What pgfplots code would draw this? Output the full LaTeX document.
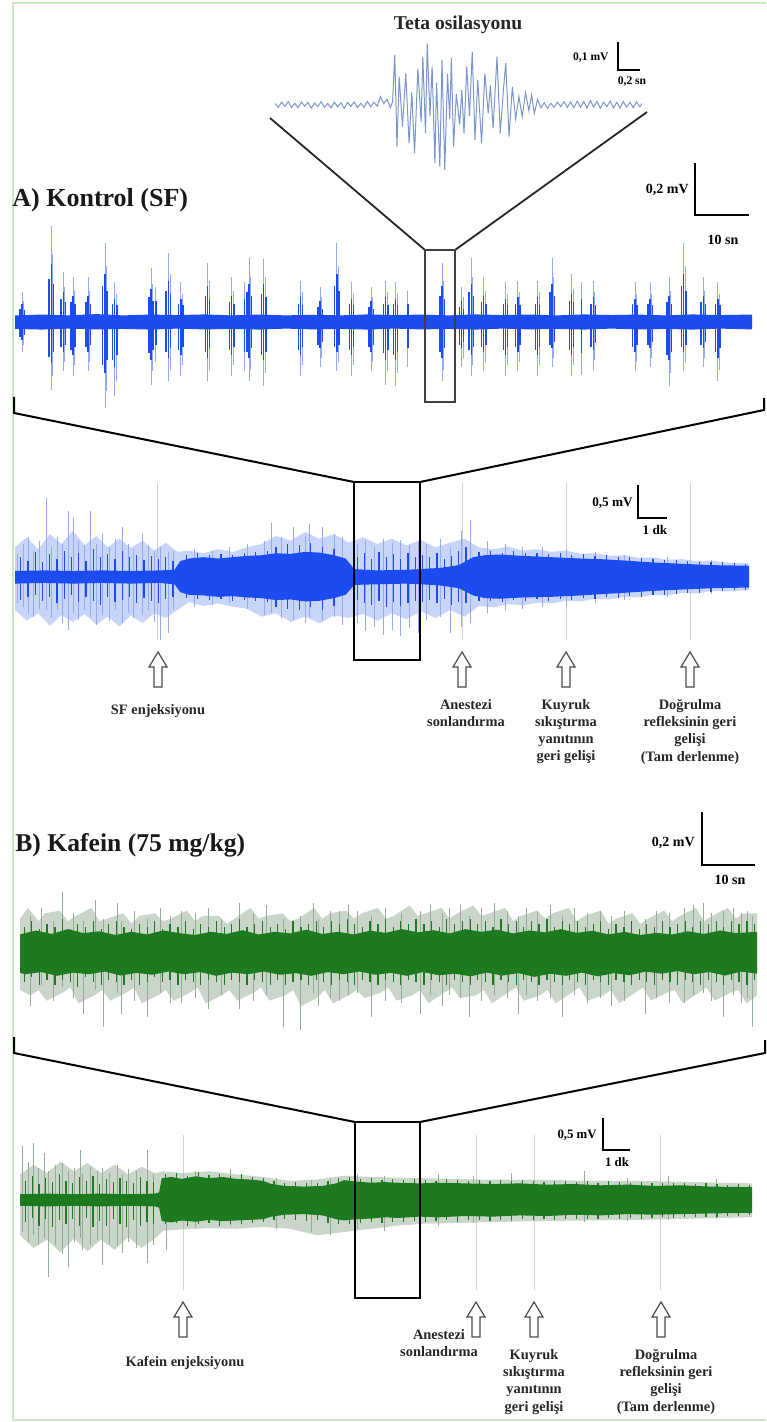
\documentclass[border=0pt]{standalone}
\usepackage{pgfplots}
\pgfplotsset{compat=1.18}
\usepackage{fontspec}
\setmainfont{Liberation Serif}
\definecolor{eegblue}{HTML}{1C4CF0}
\definecolor{eegblueL}{HTML}{93AAF4}
\definecolor{eeggreen}{HTML}{1E7A1E}
\definecolor{eeggreenL}{HTML}{95AD95}
\definecolor{tetablue}{HTML}{7A96CC}
\definecolor{framegreen}{HTML}{C9E9C3}
\definecolor{evline}{HTML}{D2D2D2}
\pgfplotsset{
  trace/.style={hide axis, scale only axis, enlargelimits=false, clip=false, anchor=south west},
  atop/.style={trace, at={(7.5pt,-210.5pt)}, width=368.5pt, height=99pt, xmin=0, xmax=136, ymin=-0.6, ymax=0.6},
  abot/.style={trace, at={(7.5pt,-338pt)}, width=367pt, height=99pt, xmin=0, xmax=25.31, ymin=-1.5, ymax=1.5},
  btop/.style={trace, at={(10pt,-522.875pt)}, width=368.5pt, height=92.75pt, xmin=0, xmax=139, ymin=-0.35, ymax=0.35},
  bbot/.style={trace, at={(10pt,-641.6pt)}, width=366pt, height=83.2pt, xmin=0, xmax=27.1, ymin=-1.3, ymax=1.3},
  spk/.style={#1, line width=0.45pt, unbounded coords=jump},
  vl/.style 2 args={color=#2, only marks, mark=*, mark size=0pt, mark options={draw opacity=0, fill opacity=0},
     error bars/.cd, y dir=both, y explicit, error mark=none,
     error bar style={line width=#1, draw=#2, color=#2, draw opacity=1}},
}
\newcommand{\uparr}[2]{\draw[line width=0.6pt, draw=black!70, fill=white] (#1,#2) -- ++(9,15) -- ++(-5,0) -- ++(0,20) -- ++(-8,0) -- ++(0,-20) -- ++(-5,0) -- cycle;}
\begin{document}
\begin{tikzpicture}
\path[use as bounding box] (0,0) rectangle (383pt,-711pt);
\begin{scope}[x=0.5pt,y=-0.5pt]
\draw[framegreen, line width=0.75pt] (766,3) -- (13,3) -- (13,1420) -- (766,1420);
\foreach \ex in {157,462,566,690} \draw[evline, line width=0.4pt] (\ex,483) -- (\ex,640);
\foreach \ex in {183,476,534,660} \draw[evline, line width=0.4pt] (\ex,1135) -- (\ex,1290);
\end{scope}

% ---------- Teta inset ----------
\begin{axis}[trace, at={(137.5pt,-87.5pt)}, width=183.5pt, height=70pt,
  xmin=0, xmax=3.34, ymin=-0.25, ymax=0.25]
\addplot[tetablue, line width=0.5pt] coordinates {
(0.00,0.005)(0.03,-0.008)(0.06,0.010)(0.09,-0.005)(0.12,0.012)(0.15,-0.009)(0.18,0.006)(0.21,-0.010)
(0.24,0.011)(0.27,-0.004)(0.30,0.009)(0.33,-0.011)(0.36,0.007)(0.39,-0.006)(0.42,0.012)(0.45,-0.008)
(0.48,0.005)(0.51,-0.010)(0.54,0.010)(0.57,-0.007)(0.60,0.008)(0.63,-0.012)(0.66,0.009)(0.69,-0.005)
(0.72,0.011)(0.75,-0.009)(0.78,0.006)(0.81,-0.008)(0.84,0.013)(0.87,-0.006)(0.90,0.010)(0.93,-0.004)
(0.96,0.030)(0.99,0.005)(1.02,0.020)(1.05,-0.010)
(1.07,0.012)(1.09,0.179)(1.11,-0.149)(1.13,0.101)(1.16,-0.077)(1.19,0.113)(1.22,-0.137)(1.245,0.045)
(1.27,-0.173)(1.30,0.130)(1.33,-0.060)(1.345,0.173)(1.37,-0.101)(1.385,0.220)(1.41,-0.040)(1.43,0.137)
(1.455,-0.208)(1.47,0.080)(1.50,-0.220)(1.52,0.161)(1.545,-0.232)(1.57,0.110)(1.59,-0.050)(1.605,0.167)
(1.625,-0.149)(1.65,0.040)(1.68,-0.070)(1.70,0.054)(1.72,-0.101)(1.745,0.137)(1.77,-0.040)(1.795,0.190)
(1.82,-0.125)(1.845,0.089)(1.88,-0.137)(1.91,0.113)(1.94,-0.030)(1.96,0.070)(1.985,-0.083)(2.02,0.173)
(2.05,-0.101)(2.08,0.060)(2.10,0.149)(2.13,-0.113)(2.16,0.065)(2.19,-0.050)(2.22,0.030)(2.25,-0.042)
(2.28,0.045)(2.31,-0.020)(2.335,0.036)(2.36,-0.030)(2.39,0.020)
(2.42,-0.010)(2.45,0.008)(2.48,-0.012)(2.51,0.006)(2.54,-0.008)(2.57,0.010)(2.60,-0.006)(2.63,0.012)
(2.66,-0.009)(2.69,0.011)(2.72,-0.010)(2.75,0.014)(2.78,-0.008)(2.81,0.012)(2.84,-0.011)(2.87,0.016)
(2.90,-0.007)(2.93,0.013)(2.96,-0.012)(2.99,0.010)(3.02,-0.006)(3.05,0.014)(3.08,-0.010)(3.11,0.009)
(3.14,-0.011)(3.17,0.012)(3.20,-0.007)(3.23,0.010)(3.26,-0.009)(3.29,0.011)(3.32,-0.006)(3.34,0.005)
};
\end{axis}

% ---------- A top trace ----------
\begin{axis}[atop]
\addplot[spk=eegblueL] coordinates {
(1.3,0.18)(1.3,-0.18)(1.3,nan)(1.6,0.13)(1.6,-0.14)(1.6,nan)(6.7,0.58)(6.7,-0.41)(6.7,nan)
(7.0,0.41)(7.0,-0.33)(7.0,nan)(8.9,0.30)(8.9,-0.30)(8.9,nan)(9.2,0.21)(9.2,-0.24)(9.2,nan)
(10.7,0.27)(10.7,-0.33)(10.7,nan)(11.0,0.19)(11.0,-0.26)(11.0,nan)(13.5,0.27)(13.5,-0.30)(13.5,nan)
(13.8,0.19)(13.8,-0.24)(13.8,nan)(16.6,0.48)(16.6,-0.52)(16.6,nan)(16.9,0.34)(16.9,-0.42)(16.9,nan)
(18.4,0.24)(18.4,-0.45)(18.4,nan)(18.7,0.17)(18.7,-0.36)(18.7,nan)(25.1,0.33)(25.1,-0.38)(25.1,nan)
(25.4,0.23)(25.4,-0.30)(25.4,nan)(26.0,0.21)(26.0,-0.24)(26.0,nan)(28.3,0.42)(28.3,-0.36)(28.3,nan)
(28.6,0.29)(28.6,-0.29)(28.6,nan)(30.6,0.24)(30.6,-0.33)(30.6,nan)(30.9,0.17)(30.9,-0.26)(30.9,nan)
(35.5,0.36)(35.5,-0.36)(35.5,nan)(35.8,0.25)(35.8,-0.29)(35.8,nan)(40.0,0.27)(40.0,-0.33)(40.0,nan)
(40.3,0.19)(40.3,-0.26)(40.3,nan)(42.3,0.24)(42.3,-0.30)(42.3,nan)(43.2,0.39)(43.2,-0.36)(43.2,nan)
(43.5,0.27)(43.5,-0.29)(43.5,nan)(45.9,0.38)(45.9,-0.39)(45.9,nan)(46.2,0.27)(46.2,-0.31)(46.2,nan)
(52.7,0.25)(52.7,-0.33)(52.7,nan)(53.0,0.18)(53.0,-0.26)(53.0,nan)(56.3,0.21)(56.3,-0.27)(56.3,nan)
(56.6,0.15)(56.6,-0.22)(56.6,nan)(59.4,0.48)(59.4,-0.30)(59.4,nan)(59.7,0.34)(59.7,-0.24)(59.7,nan)
(62.1,0.24)(62.1,-0.33)(62.1,nan)(62.4,0.17)(62.4,-0.26)(62.4,nan)(65.7,0.21)(65.7,-0.30)(65.7,nan)
(66.0,0.15)(66.0,-0.24)(66.0,nan)(68.4,0.25)(68.4,-0.38)(68.4,nan)(68.7,0.18)(68.7,-0.30)(68.7,nan)
(70.2,0.24)(70.2,-0.39)(70.2,nan)(70.5,0.17)(70.5,-0.31)(70.5,nan)(72.5,0.19)(72.5,-0.27)(72.5,nan)
(78.8,0.36)(78.8,-0.36)(78.8,nan)(79.1,0.25)(79.1,-0.29)(79.1,nan)(82.4,0.21)(82.4,-0.27)(82.4,nan)
(82.7,0.15)(82.7,-0.22)(82.7,nan)(84.2,0.39)(84.2,-0.33)(84.2,nan)(84.5,0.27)(84.5,-0.26)(84.5,nan)
(86.5,0.27)(86.5,-0.30)(86.5,nan)(86.8,0.19)(86.8,-0.24)(86.8,nan)(90.5,0.24)(90.5,-0.33)(90.5,nan)
(90.8,0.17)(90.8,-0.26)(90.8,nan)(92.8,0.25)(92.8,-0.30)(92.8,nan)(93.1,0.18)(93.1,-0.24)(93.1,nan)
(96.4,0.25)(96.4,-0.33)(96.4,nan)(96.7,0.18)(96.7,-0.26)(96.7,nan)(99.1,0.39)(99.1,-0.27)(99.1,nan)
(99.4,0.27)(99.4,-0.22)(99.4,nan)(102.7,0.29)(102.7,-0.33)(102.7,nan)(103.0,0.20)(103.0,-0.26)(103.0,nan)
(104.5,0.24)(104.5,-0.32)(104.5,nan)(106.7,0.25)(106.7,-0.29)(106.7,nan)(107.0,0.18)(107.0,-0.23)(107.0,nan)
(114.4,0.24)(114.4,-0.30)(114.4,nan)(114.7,0.17)(114.7,-0.24)(114.7,nan)(117.2,0.24)(117.2,-0.27)(117.2,nan)
(117.5,0.17)(117.5,-0.22)(117.5,nan)(120.7,0.27)(120.7,-0.39)(120.7,nan)(121.0,0.19)(121.0,-0.31)(121.0,nan)
(123.4,0.48)(123.4,-0.30)(123.4,nan)(123.7,0.34)(123.7,-0.24)(123.7,nan)(127.0,0.27)(127.0,-0.27)(127.0,nan)
(127.3,0.19)(127.3,-0.22)(127.3,nan)(129.7,0.24)(129.7,-0.36)(129.7,nan)(130.0,0.17)(130.0,-0.29)
};
\end{axis}
\begin{axis}[atop]
\addplot[vl={0.7pt}{eegblue}] table[x index=0, y index=1, y error plus index=2, y error minus index=3] {
0.9 0 0.08 0.09
1.3 0 0.11 0.11
1.7 0 0.07 0.08
6.3 0 0.26 0.21
6.7 0 0.35 0.25
7.1 0 0.23 0.18
8.5 0 0.14 0.15
8.9 0 0.18 0.18
9.3 0 0.12 0.14
10.3 0 0.12 0.17
10.7 0 0.16 0.20
11.1 0 0.11 0.15
13.1 0 0.12 0.15
13.5 0 0.16 0.18
13.9 0 0.11 0.14
16.2 0 0.22 0.26
16.6 0 0.29 0.31
17.0 0 0.19 0.23
18.0 0 0.11 0.23
18.4 0 0.14 0.27
18.8 0 0.10 0.20
24.7 0 0.15 0.19
25.1 0 0.20 0.23
25.5 0 0.13 0.17
26.0 0 0.13 0.14
27.9 0 0.19 0.18
28.3 0 0.25 0.22
28.7 0 0.17 0.16
30.2 0 0.11 0.17
30.6 0 0.14 0.20
31.0 0 0.10 0.15
35.1 0 0.16 0.18
35.5 0 0.22 0.22
35.9 0 0.14 0.16
39.6 0 0.12 0.17
40.0 0 0.16 0.20
40.4 0 0.11 0.15
42.3 0 0.14 0.18
42.8 0 0.18 0.18
43.2 0 0.23 0.22
43.6 0 0.16 0.16
45.5 0 0.17 0.20
45.9 0 0.23 0.23
46.3 0 0.15 0.18
52.3 0 0.11 0.17
52.7 0 0.15 0.20
53.1 0 0.10 0.15
55.9 0 0.09 0.14
56.3 0 0.13 0.16
56.7 0 0.08 0.12
59.0 0 0.22 0.15
59.4 0 0.29 0.18
59.8 0 0.19 0.14
61.7 0 0.11 0.17
62.1 0 0.14 0.20
62.5 0 0.10 0.15
65.3 0 0.09 0.15
65.7 0 0.13 0.18
66.1 0 0.08 0.14
68.0 0 0.11 0.19
68.4 0 0.15 0.23
68.8 0 0.10 0.17
69.8 0 0.11 0.20
70.2 0 0.14 0.23
70.6 0 0.10 0.18
72.5 0 0.11 0.16
78.4 0 0.16 0.18
78.8 0 0.22 0.22
79.2 0 0.14 0.16
82.0 0 0.09 0.14
82.4 0 0.13 0.16
82.8 0 0.08 0.12
83.8 0 0.18 0.17
84.2 0 0.23 0.20
84.6 0 0.16 0.15
86.1 0 0.12 0.15
86.5 0 0.16 0.18
86.9 0 0.11 0.14
90.1 0 0.11 0.17
90.5 0 0.14 0.20
90.9 0 0.10 0.15
92.4 0 0.11 0.15
92.8 0 0.15 0.18
93.2 0 0.10 0.14
96.0 0 0.11 0.17
96.4 0 0.15 0.20
96.8 0 0.10 0.15
98.7 0 0.18 0.14
99.1 0 0.23 0.16
99.5 0 0.16 0.12
102.3 0 0.13 0.17
102.7 0 0.17 0.20
103.1 0 0.12 0.15
104.5 0 0.14 0.19
106.3 0 0.11 0.15
106.7 0 0.15 0.17
107.1 0 0.10 0.13
114.0 0 0.11 0.15
114.4 0 0.14 0.18
114.8 0 0.10 0.14
116.8 0 0.11 0.14
117.2 0 0.14 0.16
117.6 0 0.10 0.12
120.3 0 0.12 0.20
120.7 0 0.16 0.23
121.1 0 0.11 0.18
123.0 0 0.22 0.15
123.4 0 0.29 0.18
123.8 0 0.19 0.14
126.6 0 0.12 0.14
127.0 0 0.16 0.16
127.4 0 0.11 0.12
129.3 0 0.11 0.18
129.7 0 0.14 0.22
130.1 0 0.10 0.16
};
\addplot[fill=eegblue, draw=none] coordinates {
(0,0.040)(5,0.045)(10,0.040)(15,0.048)(20,0.040)(25,0.045)(30,0.042)(35,0.046)(40,0.040)(45,0.045)
(50,0.040)(55,0.044)(60,0.040)(65,0.046)(70,0.042)(75,0.045)(80,0.040)(85,0.046)(90,0.042)(95,0.045)
(100,0.040)(105,0.046)(110,0.042)(115,0.045)(120,0.040)(125,0.046)(130,0.042)(136,0.045)
(136,-0.045)(130,-0.040)(125,-0.046)(120,-0.042)(115,-0.045)(110,-0.040)(105,-0.046)(100,-0.042)
(95,-0.045)(90,-0.040)(85,-0.046)(80,-0.042)(75,-0.045)(70,-0.040)(65,-0.046)(60,-0.042)(55,-0.045)
(50,-0.040)(45,-0.046)(40,-0.042)(35,-0.045)(30,-0.040)(25,-0.046)(20,-0.042)(15,-0.045)(10,-0.040)
(5,-0.046)(0,-0.042)
};
\end{axis}

% ---------- A bottom trace ----------
\begin{axis}[abot]
\addplot[fill=eegblueL, fill opacity=0.5, draw=none] coordinates {
(0,0.45)(0.4,0.60)(0.8,0.42)(1.2,0.65)(1.6,0.50)(2.0,0.70)(2.4,0.48)(2.8,0.62)(3.2,0.45)(3.6,0.58)
(4.0,0.44)(4.4,0.55)(4.8,0.40)(5.2,0.52)(5.6,0.38)(6.0,0.40)(6.5,0.36)(7.0,0.42)(7.5,0.38)(8.0,0.45)
(8.5,0.50)(9.0,0.62)(9.5,0.55)(10.0,0.68)(10.5,0.58)(11.0,0.65)(11.5,0.52)(12.0,0.60)(12.5,0.50)
(13.0,0.58)(13.5,0.48)(14.0,0.56)(14.5,0.45)(15.0,0.52)(15.5,0.58)(16.0,0.45)(16.5,0.42)(17.0,0.46)
(17.5,0.40)(18.0,0.42)(18.5,0.38)(19.0,0.40)(19.5,0.35)(20.0,0.36)(20.5,0.32)(21.0,0.33)(21.5,0.29)
(22.0,0.30)(22.5,0.26)(23.0,0.27)(23.5,0.24)(24.0,0.25)(24.5,0.22)(25.31,0.21)
(25.31,-0.20)(24.5,-0.22)(24.0,-0.21)(23.5,-0.25)(23.0,-0.24)(22.5,-0.28)(22.0,-0.27)(21.5,-0.31)
(21.0,-0.30)(20.5,-0.34)(20.0,-0.33)(19.5,-0.37)(19.0,-0.36)(18.5,-0.40)(18.0,-0.39)(17.5,-0.43)
(17.0,-0.41)(16.5,-0.46)(16.0,-0.44)(15.5,-0.60)(15.0,-0.50)(14.5,-0.62)(14.0,-0.52)(13.5,-0.64)
(13.0,-0.55)(12.5,-0.66)(12.0,-0.56)(11.5,-0.62)(11.0,-0.58)(10.5,-0.70)(10.0,-0.60)(9.5,-0.68)
(9.0,-0.55)(8.5,-0.60)(8.0,-0.48)(7.5,-0.45)(7.0,-0.40)(6.5,-0.44)(6.0,-0.38)(5.6,-0.50)(5.2,-0.62)
(4.8,-0.55)(4.4,-0.70)(4.0,-0.58)(3.6,-0.75)(3.2,-0.60)(2.8,-0.72)(2.4,-0.56)(2.0,-0.68)(1.6,-0.58)
(1.2,-0.74)(0.8,-0.55)(0.4,-0.66)(0,-0.50)
};
\addplot[spk=eegblueL] coordinates {
(0.1,0.35)(0.1,-0.40)(0.1,nan)(0.3,0.50)(0.3,-0.45)(0.3,nan)(0.48,0.61)(0.48,-0.55)(0.48,nan)
(0.65,0.40)(0.65,-0.60)(0.65,nan)(0.85,0.55)(0.85,-0.48)(0.85,nan)(1.07,1.20)(1.07,-0.50)(1.07,nan)
(1.25,0.45)(1.25,-0.62)(1.25,nan)(1.45,0.60)(1.45,-0.50)(1.45,nan)(1.65,0.50)(1.65,-0.70)(1.65,nan)
(1.83,1.00)(1.83,-0.80)(1.83,nan)(2.00,0.90)(2.00,-0.55)(2.00,nan)(2.20,0.55)(2.20,-0.65)(2.20,nan)
(2.40,0.48)(2.40,-0.50)(2.40,nan)(2.59,1.00)(2.59,-0.60)(2.59,nan)(2.80,0.50)(2.80,-0.72)(2.80,nan)
(3.03,0.65)(3.03,-0.58)(3.03,nan)(3.25,0.45)(3.25,-0.66)(3.25,nan)(3.45,0.58)(3.45,-0.50)(3.45,nan)
(3.69,0.76)(3.69,-0.70)(3.69,nan)(3.90,0.50)(3.90,-0.55)(3.90,nan)(4.10,0.42)(4.10,-0.62)(4.10,nan)
(4.38,0.65)(4.38,-0.58)(4.38,nan)(4.60,0.48)(4.60,-0.50)(4.60,nan)(4.80,0.40)(4.80,-0.68)(4.80,nan)
(5.03,0.45)(5.03,-0.95)(5.03,nan)(5.28,0.38)(5.28,-0.85)(5.28,nan)(5.45,0.40)(5.45,-0.50)(5.45,nan)
(6.2,0.42)(6.2,-0.45)(6.2,nan)(6.8,0.40)(6.8,-0.42)(6.8,nan)(7.4,0.45)(7.4,-0.40)(7.4,nan)
(8.0,0.50)(8.0,-0.48)(8.0,nan)(8.6,0.55)(8.6,-0.58)(8.6,nan)(8.83,0.82)(8.83,-0.55)(8.83,nan)
(9.2,0.60)(9.2,-0.62)(9.2,nan)(9.59,0.76)(9.59,-0.65)(9.59,nan)(10.0,0.62)(10.0,-0.70)(10.0,nan)
(10.17,0.80)(10.17,-0.60)(10.17,nan)(10.59,0.76)(10.59,-0.66)(10.59,nan)(11.0,0.65)(11.0,-0.60)(11.0,nan)
(11.28,0.60)(11.28,-0.72)(11.28,nan)(11.8,0.50)(11.8,-0.70)(11.8,nan)(12.1,0.56)(12.1,-0.82)(12.1,nan)
(12.4,0.45)(12.4,-0.75)(12.4,nan)(12.7,0.58)(12.7,-0.88)(12.7,nan)(13.0,0.52)(13.0,-0.80)(13.0,nan)
(13.3,0.56)(13.3,-0.90)(13.3,nan)(13.6,0.48)(13.6,-0.78)(13.6,nan)(13.9,0.55)(13.9,-0.85)(13.9,nan)
(14.2,0.50)(14.2,-0.65)(14.2,nan)(14.66,0.58)(14.66,-0.60)(14.66,nan)(15.0,0.45)(15.0,-0.85)(15.0,nan)
(15.4,0.70)(15.4,-0.76)(15.4,nan)(15.72,0.86)(15.72,-0.70)(15.72,nan)(16.3,0.55)(16.3,-0.55)(16.3,nan)
(16.9,0.50)(16.9,-0.50)(16.9,nan)(17.5,0.45)(17.5,-0.48)(17.5,nan)(18.2,0.46)(18.2,-0.45)(18.2,nan)
(19.0,0.42)(19.0,-0.44)(19.0,nan)(20.0,0.38)(20.0,-0.40)(20.0,nan)(21.0,0.34)(21.0,-0.35)(21.0,nan)
(22.5,0.30)(22.5,-0.30)(22.5,nan)(24.0,0.26)(24.0,-0.25)
};
\end{axis}
\begin{axis}[abot]
\addplot[vl={0.6pt}{eegblue}] table[x index=0, y index=1, y error plus index=2, y error minus index=3] {
0.2 0 0.30 0.35
0.45 0 0.25 0.30
0.7 0 0.38 0.28
0.95 0 0.22 0.36
1.2 0 0.35 0.30
1.45 0 0.28 0.40
1.7 0 0.40 0.33
1.95 0 0.30 0.28
2.2 0 0.36 0.38
2.45 0 0.25 0.30
2.7 0 0.42 0.36
2.95 0 0.30 0.42
3.2 0 0.35 0.30
3.45 0 0.28 0.38
3.7 0 0.40 0.35
3.95 0 0.30 0.30
4.2 0 0.34 0.40
4.45 0 0.26 0.32
4.7 0 0.32 0.36
4.95 0 0.28 0.40
5.2 0 0.30 0.34
5.45 0 0.25 0.30
5.9 0 0.34 0.32
6.3 0 0.36 0.34
6.7 0 0.33 0.35
7.1 0 0.35 0.33
7.5 0 0.34 0.36
7.9 0 0.37 0.35
8.3 0 0.38 0.36
8.7 0 0.40 0.38
9.0 0 0.45 0.45
9.4 0 0.50 0.48
9.8 0 0.48 0.50
10.2 0 0.52 0.46
10.6 0 0.46 0.50
11.0 0 0.42 0.44
11.8 0 0.30 0.35
12.05 0 0.36 0.40
12.3 0 0.28 0.42
12.55 0 0.38 0.36
12.8 0 0.30 0.45
13.05 0 0.35 0.38
13.3 0 0.28 0.44
13.55 0 0.36 0.40
13.8 0 0.30 0.36
14.05 0 0.34 0.38
14.3 0 0.30 0.35
14.55 0 0.36 0.40
14.8 0 0.28 0.34
15.05 0 0.32 0.42
15.3 0 0.40 0.38
15.55 0 0.45 0.40
16.0 0 0.38 0.37
16.4 0 0.40 0.36
16.8 0 0.37 0.38
17.2 0 0.39 0.35
17.6 0 0.36 0.37
18.0 0 0.37 0.34
18.4 0 0.35 0.36
18.8 0 0.36 0.33
19.2 0 0.34 0.35
19.6 0 0.35 0.32
20.0 0 0.32 0.33
20.4 0 0.33 0.31
20.8 0 0.31 0.32
21.2 0 0.30 0.29
21.6 0 0.29 0.30
22.0 0 0.28 0.27
22.4 0 0.26 0.27
22.8 0 0.26 0.25
23.2 0 0.25 0.24
23.6 0 0.23 0.24
24.0 0 0.22 0.22
24.4 0 0.22 0.21
24.8 0 0.21 0.20
25.2 0 0.20 0.20
};
\addplot[fill=eegblue, draw=none] coordinates {
(0,0.09)(1.0,0.10)(2.0,0.09)(3.0,0.10)(4.0,0.09)(5.0,0.10)(5.5,0.11)(5.7,0.24)(6.0,0.28)(6.5,0.30)
(7.0,0.28)(7.5,0.30)(8.0,0.32)(8.5,0.33)(9.0,0.36)(9.5,0.35)(10.0,0.38)(10.5,0.37)(11.0,0.33)
(11.4,0.28)(11.7,0.12)(12.5,0.10)(13.5,0.11)(14.0,0.12)(14.7,0.14)(15.3,0.18)(15.8,0.30)(16.2,0.33)
(16.7,0.34)(17.5,0.32)(18.5,0.30)(19.5,0.28)(20.2,0.27)(21.0,0.25)(22.0,0.22)(23.0,0.20)(24.0,0.18)
(25.31,0.17)
(25.31,-0.16)(24.0,-0.17)(23.0,-0.19)(22.0,-0.21)(21.0,-0.24)(20.2,-0.26)(19.5,-0.28)(18.5,-0.30)
(17.5,-0.31)(16.7,-0.33)(16.2,-0.32)(15.8,-0.28)(15.3,-0.17)(14.7,-0.13)(14.0,-0.11)(13.5,-0.10)
(12.5,-0.11)(11.7,-0.12)(11.4,-0.27)(11.0,-0.32)(10.5,-0.36)(10.0,-0.37)(9.5,-0.34)(9.0,-0.35)
(8.5,-0.32)(8.0,-0.31)(7.5,-0.29)(7.0,-0.30)(6.5,-0.28)(6.0,-0.27)(5.7,-0.23)(5.5,-0.11)(5.0,-0.09)
(4.0,-0.10)(3.0,-0.09)(2.0,-0.10)(1.0,-0.09)(0,-0.10)
};
\end{axis}

% ---------- B top trace ----------
\begin{axis}[btop]
\addplot[fill=eeggreenL, fill opacity=0.5, draw=none] coordinates {
(0,0.13)(1.5,0.17)(3.5,0.12)(4.7,0.15)(7.5,0.16)(9.0,0.12)(10.5,0.14)(13.5,0.17)(15.0,0.12)(16.5,0.13)
(19.5,0.15)(21.0,0.11)(22.5,0.14)(25.5,0.15)(27.0,0.12)(28.5,0.13)(31.5,0.16)(33.0,0.12)(34.5,0.14)
(37.5,0.14)(39.0,0.11)(40.5,0.13)(43.5,0.17)(45.0,0.13)(46.5,0.14)(49.5,0.15)(51.0,0.12)(52.5,0.13)
(55.5,0.17)(57.0,0.13)(58.5,0.15)(61.5,0.16)(63.0,0.13)(64.5,0.15)(67.5,0.17)(69.0,0.13)(70.5,0.14)
(73.5,0.18)(75.0,0.14)(76.5,0.15)(79.5,0.17)(81.0,0.13)(82.5,0.15)(85.5,0.18)(87.0,0.14)(88.5,0.15)
(91.5,0.17)(93.0,0.12)(94.5,0.14)(97.5,0.16)(99.0,0.13)(100.5,0.15)(103.5,0.17)(105.0,0.12)(106.5,0.14)
(109.5,0.16)(111.0,0.11)(112.5,0.13)(115.5,0.15)(117.0,0.11)(118.5,0.13)(121.5,0.16)(123.0,0.12)
(124.5,0.14)(127.5,0.17)(129.0,0.12)(130.5,0.14)(133.5,0.17)(135.0,0.13)(136.5,0.15)(139,0.15)
(139,-0.16)(137,-0.19)(135.5,-0.14)(134,-0.15)(131,-0.18)(129.5,-0.13)(128,-0.15)(125,-0.19)(123.5,-0.14)
(122,-0.15)(119,-0.18)(117.5,-0.13)(116,-0.15)(113,-0.19)(111.5,-0.14)(110,-0.16)(107,-0.18)(105.5,-0.13)
(104,-0.15)(101,-0.19)(99.5,-0.14)(98,-0.16)(95,-0.18)(93.5,-0.13)(92,-0.15)(89,-0.19)(87.5,-0.14)
(86,-0.16)(83,-0.17)(81.5,-0.13)(80,-0.15)(77,-0.19)(75.5,-0.14)(74,-0.16)(71,-0.18)(69.5,-0.13)
(68,-0.15)(65,-0.17)(63.5,-0.14)(62,-0.16)(59,-0.19)(57.5,-0.14)(56,-0.17)(53,-0.20)(51.5,-0.14)
(50,-0.16)(47,-0.18)(45.5,-0.13)(44,-0.15)(41,-0.18)(39.5,-0.14)(38,-0.16)(35,-0.19)(33.5,-0.13)
(32,-0.15)(29,-0.18)(27.5,-0.14)(26,-0.16)(23,-0.19)(21.5,-0.13)(20,-0.15)(17,-0.18)(15.5,-0.14)
(14,-0.16)(11,-0.19)(9.5,-0.13)(8,-0.15)(5,-0.18)(3.5,-0.14)(2,-0.16)(0,-0.14)
};
\addplot[spk=eeggreenL] coordinates {
(2.0,0.14)(2.0,-0.20)(2.0,nan)(4.0,0.17)(4.0,-0.12)(4.0,nan)(6.4,0.12)(6.4,-0.18)(6.4,nan)
(8.1,0.23)(8.1,-0.13)(8.1,nan)(10.0,0.15)(10.0,-0.17)(10.0,nan)(11.9,0.12)(11.9,-0.23)(11.9,nan)
(14.2,0.20)(14.2,-0.14)(14.2,nan)(15.7,0.13)(15.7,-0.28)(15.7,nan)(18.3,0.19)(18.3,-0.15)(18.3,nan)
(19.2,0.12)(19.2,-0.23)(19.2,nan)(21.5,0.16)(21.5,-0.18)(21.5,nan)(24.0,0.13)(24.0,-0.24)(24.0,nan)
(26.5,0.17)(26.5,-0.15)(26.5,nan)(28.3,0.14)(28.3,-0.19)(28.3,nan)(30.4,0.16)(30.4,-0.19)(30.4,nan)
(33.0,0.15)(33.0,-0.17)(33.0,nan)(35.5,0.17)(35.5,-0.21)(35.5,nan)(38.0,0.13)(38.0,-0.16)(38.0,nan)
(41.3,0.19)(41.3,-0.21)(41.3,nan)(44.0,0.15)(44.0,-0.18)(44.0,nan)(46.5,0.18)(46.5,-0.16)(46.5,nan)
(49.6,0.13)(49.6,-0.28)(49.6,nan)(52.8,0.14)(52.8,-0.29)(52.8,nan)(55.3,0.19)(55.3,-0.15)(55.3,nan)
(56.2,0.13)(56.2,-0.20)(56.2,nan)(58.5,0.16)(58.5,-0.17)(58.5,nan)(60.3,0.16)(60.3,-0.18)(60.3,nan)
(62.0,0.18)(62.0,-0.16)(62.0,nan)(63.6,0.16)(63.6,-0.15)(63.6,nan)(66.2,0.14)(66.2,-0.24)(66.2,nan)
(69.0,0.17)(69.0,-0.18)(69.0,nan)(72.0,0.15)(72.0,-0.19)(72.0,nan)(75.5,0.16)(75.5,-0.23)(75.5,nan)
(77.5,0.18)(77.5,-0.16)(77.5,nan)(79.6,0.15)(79.6,-0.20)(79.6,nan)(81.0,0.17)(81.0,-0.16)(81.0,nan)
(83.0,0.18)(83.0,-0.17)(83.0,nan)(84.7,0.14)(84.7,-0.24)(84.7,nan)(87.0,0.17)(87.0,-0.18)(87.0,nan)
(89.5,0.19)(89.5,-0.16)(89.5,nan)(92.0,0.16)(92.0,-0.17)(92.0,nan)(94.0,0.14)(94.0,-0.23)(94.0,nan)
(95.5,0.17)(95.5,-0.16)(95.5,nan)(97.5,0.16)(97.5,-0.18)(97.5,nan)(100.0,0.18)(100.0,-0.17)(100.0,nan)
(102.3,0.14)(102.3,-0.24)(102.3,nan)(104.5,0.17)(104.5,-0.16)(104.5,nan)(107.0,0.15)(107.0,-0.19)(107.0,nan)
(109.5,0.16)(109.5,-0.17)(109.5,nan)(111.5,0.14)(111.5,-0.20)(111.5,nan)(114.0,0.16)(114.0,-0.18)(114.0,nan)
(117.9,0.13)(117.9,-0.23)(117.9,nan)(120.0,0.16)(120.0,-0.17)(120.0,nan)(122.5,0.15)(122.5,-0.19)(122.5,nan)
(125.3,0.17)(125.3,-0.19)(125.3,nan)(127.0,0.18)(127.0,-0.16)(127.0,nan)(128.9,0.19)(128.9,-0.15)(128.9,nan)
(130.5,0.15)(130.5,-0.18)(130.5,nan)(132.6,0.16)(132.6,-0.24)(132.6,nan)(134.5,0.17)(134.5,-0.16)(134.5,nan)
(136.0,0.15)(136.0,-0.19)(136.0,nan)(137.2,0.16)(137.2,-0.17)(137.2,nan)(138.1,0.14)(138.1,-0.28)
};
\end{axis}
\begin{axis}[btop]
\addplot[vl={0.6pt}{eeggreen}] table[x index=0, y index=1, y error plus index=2, y error minus index=3] {
0.8 0 0.10 0.11
2.2 0 0.12 0.09
3.7 0 0.09 0.12
5.1 0 0.11 0.10
6.6 0 0.10 0.12
8.0 0 0.13 0.10
9.5 0 0.09 0.11
10.9 0 0.11 0.13
12.4 0 0.10 0.09
13.8 0 0.12 0.11
15.3 0 0.09 0.12
16.7 0 0.11 0.10
18.2 0 0.12 0.11
19.6 0 0.10 0.12
21.1 0 0.09 0.10
22.5 0 0.11 0.12
24.0 0 0.10 0.11
25.4 0 0.12 0.09
26.9 0 0.09 0.11
28.3 0 0.11 0.10
29.8 0 0.10 0.12
31.2 0 0.12 0.10
32.7 0 0.09 0.11
34.1 0 0.11 0.12
35.6 0 0.10 0.10
37.0 0 0.12 0.11
38.5 0 0.10 0.12
39.9 0 0.11 0.10
41.4 0 0.13 0.11
42.8 0 0.10 0.12
44.3 0 0.11 0.10
45.7 0 0.12 0.11
47.2 0 0.10 0.12
48.6 0 0.11 0.10
50.1 0 0.09 0.12
51.5 0 0.12 0.11
53.0 0 0.10 0.10
54.4 0 0.11 0.12
55.9 0 0.12 0.10
57.3 0 0.10 0.11
58.8 0 0.12 0.12
60.2 0 0.11 0.10
61.7 0 0.13 0.11
63.1 0 0.11 0.12
64.6 0 0.10 0.10
66.0 0 0.12 0.11
67.5 0 0.11 0.12
68.9 0 0.13 0.10
70.4 0 0.10 0.11
71.8 0 0.12 0.12
73.3 0 0.11 0.10
74.7 0 0.13 0.11
76.2 0 0.11 0.12
77.6 0 0.12 0.10
79.1 0 0.10 0.11
80.5 0 0.13 0.12
82.0 0 0.11 0.10
83.4 0 0.12 0.11
84.9 0 0.13 0.12
86.3 0 0.11 0.10
87.8 0 0.12 0.11
89.2 0 0.10 0.12
90.7 0 0.13 0.10
92.1 0 0.11 0.11
93.6 0 0.12 0.12
95.0 0 0.10 0.10
96.5 0 0.12 0.11
97.9 0 0.11 0.12
99.4 0 0.13 0.10
100.8 0 0.10 0.11
102.3 0 0.12 0.12
103.7 0 0.11 0.10
105.2 0 0.12 0.11
106.6 0 0.10 0.12
108.1 0 0.11 0.10
109.5 0 0.12 0.11
111.0 0 0.09 0.12
112.4 0 0.11 0.10
113.9 0 0.10 0.11
115.3 0 0.12 0.12
116.8 0 0.09 0.10
118.2 0 0.11 0.11
119.7 0 0.10 0.12
121.1 0 0.12 0.10
122.6 0 0.10 0.11
124.0 0 0.11 0.12
125.5 0 0.12 0.10
126.9 0 0.10 0.11
128.4 0 0.12 0.12
129.8 0 0.11 0.10
131.3 0 0.12 0.11
132.7 0 0.10 0.12
134.2 0 0.12 0.10
135.6 0 0.11 0.11
137.1 0 0.12 0.12
138.5 0 0.11 0.10
};
\addplot[fill=eeggreen, draw=none] coordinates {
(0,0.070)(3,0.085)(6,0.072)(9,0.090)(12,0.075)(15,0.082)(18,0.068)(21,0.080)(24,0.070)(27,0.085)
(30,0.075)(33,0.068)(36,0.080)(39,0.072)(42,0.086)(45,0.070)(48,0.080)(51,0.074)(54,0.088)(57,0.072)
(60,0.080)(63,0.070)(66,0.084)(69,0.076)(72,0.090)(75,0.078)(78,0.086)(81,0.074)(84,0.090)(87,0.080)
(90,0.088)(93,0.074)(96,0.085)(99,0.078)(102,0.090)(105,0.076)(108,0.084)(111,0.070)(114,0.080)
(117,0.068)(120,0.076)(123,0.070)(126,0.082)(129,0.072)(132,0.085)(135,0.075)(139,0.080)
(139,-0.078)(136,-0.070)(133,-0.085)(130,-0.072)(127,-0.080)(124,-0.068)(121,-0.078)(118,-0.070)
(115,-0.084)(112,-0.076)(109,-0.088)(106,-0.074)(103,-0.086)(100,-0.078)(97,-0.090)(94,-0.076)
(91,-0.085)(88,-0.074)(85,-0.088)(82,-0.078)(79,-0.084)(76,-0.072)(73,-0.086)(70,-0.075)(67,-0.082)
(64,-0.070)(61,-0.080)(58,-0.072)(55,-0.086)(52,-0.076)(49,-0.082)(46,-0.070)(43,-0.080)(40,-0.074)
(37,-0.086)(34,-0.072)(31,-0.080)(28,-0.070)(25,-0.082)(22,-0.075)(19,-0.085)(16,-0.070)(13,-0.080)
(10,-0.074)(7,-0.086)(4,-0.072)(1,-0.080)(0,-0.075)
};
\end{axis}

% ---------- B bottom trace ----------
\begin{axis}[bbot]
\addplot[fill=eeggreenL, fill opacity=0.5, draw=none] coordinates {
(0,0.40)(0.5,0.55)(1.0,0.42)(1.5,0.60)(2.0,0.45)(2.5,0.58)(3.0,0.42)(3.5,0.55)(4.0,0.40)(4.5,0.52)
(5.0,0.42)(5.3,0.45)(6.0,0.42)(7.0,0.45)(8.0,0.40)(9.0,0.36)(10.0,0.30)(11.0,0.32)(12.0,0.38)
(13.0,0.36)(14.0,0.35)(15.0,0.34)(17.0,0.32)(19.0,0.32)(21.0,0.30)(23.0,0.30)(25.0,0.28)(27.1,0.26)
(27.1,-0.27)(25.0,-0.29)(23.0,-0.31)(21.0,-0.32)(19.0,-0.33)(17.0,-0.35)(15.0,-0.37)(14.0,-0.40)
(13.0,-0.45)(12.0,-0.50)(11.0,-0.55)(10.0,-0.45)(9.0,-0.42)(8.0,-0.45)(7.0,-0.44)(6.0,-0.46)
(5.3,-0.48)(5.0,-0.60)(4.5,-0.75)(4.0,-0.58)(3.5,-0.78)(3.0,-0.62)(2.5,-0.80)(2.0,-0.60)(1.5,-0.82)
(1.0,-0.62)(0.5,-0.75)(0,-0.55)
};
\addplot[spk=eeggreenL] coordinates {
(0.1,0.85)(0.1,-0.50)(0.1,nan)(0.3,0.60)(0.3,-0.65)(0.3,nan)(0.5,0.89)(0.5,-0.55)(0.5,nan)
(0.7,0.50)(0.7,-0.70)(0.7,nan)(0.9,0.73)(0.9,-0.60)(0.9,nan)(1.07,0.45)(1.07,-1.20)(1.07,nan)
(1.3,0.55)(1.3,-0.70)(1.3,nan)(1.59,0.58)(1.59,-0.85)(1.59,nan)(1.78,0.45)(1.78,-1.05)(1.78,nan)
(2.0,0.50)(2.0,-0.65)(2.0,nan)(2.22,0.78)(2.22,-0.60)(2.22,nan)(2.33,0.40)(2.33,-0.78)(2.33,nan)
(2.6,0.52)(2.6,-0.70)(2.6,nan)(2.85,0.45)(2.85,-0.62)(2.85,nan)(3.07,0.50)(3.07,-1.02)(3.07,nan)
(3.3,0.42)(3.3,-0.68)(3.3,nan)(3.6,0.55)(3.6,-0.72)(3.6,nan)(3.78,0.40)(3.78,-0.83)(3.78,nan)
(4.0,0.48)(4.0,-0.65)(4.0,nan)(4.3,0.45)(4.3,-0.75)(4.3,nan)(4.7,0.78)(4.7,-0.98)(4.7,nan)
(4.95,0.40)(4.95,-0.70)(4.95,nan)(5.41,0.35)(5.41,-0.78)(5.41,nan)(6.5,0.45)(6.5,-0.42)(6.5,nan)
(7.8,0.48)(7.8,-0.40)(7.8,nan)(9.5,0.35)(9.5,-0.45)(9.5,nan)(10.8,0.32)(10.8,-0.50)(10.8,nan)
(11.5,0.35)(11.5,-0.55)(11.5,nan)(12.5,0.40)(12.5,-0.45)(12.5,nan)(13.5,0.38)(13.5,-0.48)(13.5,nan)
(15.5,0.40)(15.5,-0.40)(15.5,nan)(16.8,0.38)(16.8,-0.36)(16.8,nan)(18.2,0.42)(18.2,-0.35)(18.2,nan)
(20.9,0.45)(20.9,-0.34)(20.9,nan)(22.5,0.35)(22.5,-0.33)(22.5,nan)(24.0,0.38)(24.0,-0.32)(24.0,nan)
(25.8,0.33)(25.8,-0.30)
};
\end{axis}
\begin{axis}[bbot]
\addplot[vl={0.6pt}{eeggreen}] table[x index=0, y index=1, y error plus index=2, y error minus index=3] {
0.2 0 0.30 0.35
0.45 0 0.38 0.28
0.7 0 0.25 0.40
0.95 0 0.35 0.30
1.2 0 0.28 0.42
1.45 0 0.40 0.32
1.7 0 0.30 0.38
1.95 0 0.26 0.30
2.2 0 0.36 0.40
2.45 0 0.30 0.28
2.7 0 0.38 0.42
2.95 0 0.25 0.33
3.2 0 0.33 0.40
3.45 0 0.28 0.30
3.7 0 0.35 0.38
3.95 0 0.30 0.42
4.2 0 0.26 0.32
4.45 0 0.36 0.40
4.7 0 0.30 0.34
4.95 0 0.28 0.38
5.4 0 0.40 0.38
5.8 0 0.42 0.36
6.2 0 0.38 0.40
6.6 0 0.43 0.37
7.0 0 0.39 0.36
7.4 0 0.41 0.40
7.8 0 0.38 0.37
8.2 0 0.40 0.38
8.6 0 0.36 0.36
9.0 0 0.35 0.35
9.4 0 0.30 0.32
9.8 0 0.27 0.30
10.2 0 0.28 0.31
10.6 0 0.26 0.33
11.0 0 0.27 0.32
11.4 0 0.30 0.36
11.8 0 0.35 0.38
12.2 0 0.36 0.37
12.6 0 0.33 0.36
13.0 0 0.34 0.35
13.4 0 0.32 0.36
13.8 0 0.33 0.34
14.2 0 0.31 0.35
14.6 0 0.33 0.33
15.0 0 0.32 0.34
15.4 0 0.30 0.33
15.8 0 0.33 0.32
16.2 0 0.31 0.34
16.6 0 0.30 0.32
17.0 0 0.32 0.31
17.4 0 0.30 0.33
17.8 0 0.31 0.31
18.2 0 0.29 0.32
18.6 0 0.31 0.30
19.0 0 0.30 0.31
19.4 0 0.28 0.30
19.8 0 0.30 0.31
20.2 0 0.29 0.29
20.6 0 0.28 0.30
21.0 0 0.30 0.29
21.4 0 0.27 0.30
21.8 0 0.29 0.28
22.2 0 0.28 0.29
22.6 0 0.27 0.28
23.0 0 0.28 0.29
23.4 0 0.26 0.28
23.8 0 0.27 0.27
24.2 0 0.26 0.28
24.6 0 0.27 0.26
25.0 0 0.25 0.27
25.4 0 0.26 0.26
25.8 0 0.25 0.26
26.2 0 0.24 0.25
26.6 0 0.25 0.25
27.0 0 0.24 0.24
};
\addplot[fill=eeggreen, draw=none] coordinates {
(0,0.09)(1.0,0.10)(2.0,0.09)(3.0,0.10)(4.0,0.09)(5.0,0.10)(5.15,0.12)(5.25,0.34)(5.6,0.36)(6.0,0.33)
(6.5,0.37)(7.0,0.34)(7.5,0.36)(8.0,0.33)(8.5,0.32)(9.0,0.30)(9.3,0.25)(9.8,0.22)(10.5,0.21)(11.2,0.22)
(11.7,0.26)(12.0,0.31)(12.4,0.29)(13.0,0.27)(13.5,0.28)(14.0,0.27)(14.8,0.26)(15.5,0.27)(16.5,0.26)
(17.5,0.25)(18.5,0.26)(19.5,0.24)(20.5,0.25)(21.5,0.23)(22.5,0.24)(23.5,0.22)(24.5,0.23)(25.5,0.21)
(27.1,0.20)
(27.1,-0.20)(25.5,-0.21)(24.5,-0.22)(23.5,-0.23)(22.5,-0.22)(21.5,-0.24)(20.5,-0.23)(19.5,-0.25)
(18.5,-0.24)(17.5,-0.26)(16.5,-0.25)(15.5,-0.27)(14.8,-0.26)(14.0,-0.28)(13.5,-0.27)(13.0,-0.29)
(12.4,-0.30)(12.0,-0.32)(11.7,-0.30)(11.2,-0.24)(10.5,-0.22)(9.8,-0.23)(9.3,-0.26)(9.0,-0.30)
(8.5,-0.31)(8.0,-0.32)(7.5,-0.33)(7.0,-0.31)(6.5,-0.34)(6.0,-0.32)(5.6,-0.35)(5.25,-0.33)(5.15,-0.12)
(5.0,-0.10)(4.0,-0.09)(3.0,-0.10)(2.0,-0.09)(1.0,-0.10)(0,-0.09)
};
\end{axis}

% ---------- overlay annotations (pixel units) ----------
\begin{scope}[x=0.5pt,y=-0.5pt]
\tikzset{lbl/.style={font=\fontsize{7.2}{8.6}\selectfont\bfseries, align=center, inner sep=0pt, text=black!85}}
\node[font=\fontsize{9.8}{11}\selectfont\bfseries, text=black!85] at (458,25) {Teta osilasyonu};
\node[font=\fontsize{13}{15}\selectfont\bfseries, anchor=west, inner sep=0pt, text=black!90] at (12,200) {A) Kontrol (SF)};
\node[font=\fontsize{12.8}{15}\selectfont\bfseries, anchor=west, inner sep=0pt, text=black!90] at (15,845) {B) Kafein (75 mg/kg)};
\draw[black!85, line width=0.9pt] (270,118) -- (425,250);
\draw[black!85, line width=0.9pt] (647,112) -- (455,250);
\draw[black!75, line width=0.8pt] (425,250) rectangle (455,402);
\draw[black, line width=1pt] (14,397) -- (14,413) -- (354,482);
\draw[black, line width=1pt] (764,398) -- (764,410) -- (420,482);
\draw[black, line width=1pt] (354,482) rectangle (420,660);
\draw[black, line width=1pt] (14,1037) -- (14,1053) -- (355,1122);
\draw[black, line width=1pt] (765,1040) -- (765,1053) -- (420,1122);
\draw[black, line width=1pt] (355,1122) rectangle (420,1298);
\draw[black, line width=1.1pt] (618,42) -- (618,70) -- (640,70);
\node[font=\fontsize{5.8}{7}\selectfont\bfseries, anchor=east, inner sep=0pt] at (609,58) {0,1 mV};
\node[font=\fontsize{5.8}{7}\selectfont\bfseries, inner sep=0pt] at (632,82) {0,2 sn};
\draw[black, line width=1.2pt] (695,163) -- (695,215) -- (749,215);
\node[font=\fontsize{7}{8}\selectfont\bfseries, anchor=east, inner sep=0pt] at (689,190) {0,2 mV};
\node[font=\fontsize{7}{8}\selectfont\bfseries, inner sep=0pt] at (723,240) {10 sn};
\draw[black, line width=1.2pt] (638,485) -- (638,518) -- (667,518);
\node[font=\fontsize{6.6}{8}\selectfont\bfseries, anchor=east, inner sep=0pt] at (633,503) {0,5 mV};
\node[font=\fontsize{6.6}{8}\selectfont\bfseries, inner sep=0pt] at (655,530) {1 dk};
\draw[black, line width=1.2pt] (702,812) -- (702,865) -- (755,865);
\node[font=\fontsize{7}{8}\selectfont\bfseries, anchor=east, inner sep=0pt] at (695,843) {0,2 mV};
\node[font=\fontsize{7}{8}\selectfont\bfseries, inner sep=0pt] at (730,880) {10 sn};
\draw[black, line width=1.2pt] (603,1118) -- (603,1150) -- (630,1150);
\node[font=\fontsize{6.4}{8}\selectfont\bfseries, anchor=east, inner sep=0pt] at (597,1135) {0,5 mV};
\node[font=\fontsize{6.4}{8}\selectfont\bfseries, inner sep=0pt] at (617,1162) {1 dk};
\uparr{158}{652}\uparr{462}{652}\uparr{566}{652}\uparr{690}{652}
\uparr{183}{1302}\uparr{476}{1302}\uparr{534}{1302}\uparr{661}{1302}
\node[lbl, anchor=north] at (158,704) {SF enjeksiyonu};
\node[lbl, anchor=north] at (466,699) {Anestezi\\sonlandırma};
\node[lbl, anchor=north] at (566,699) {Kuyruk\\sıkıştırma\\yanıtının\\geri gelişi};
\node[lbl, anchor=north] at (690,699) {Doğrulma\\refleksinin geri\\gelişi\\(Tam derlenme)};
\node[lbl, anchor=north] at (185,1356) {Kafein enjeksiyonu};
\node[lbl, anchor=north] at (439,1329) {Anestezi\\sonlandırma};
\node[lbl, anchor=north] at (534,1349) {Kuyruk\\sıkıştırma\\yanıtının\\geri gelişi};
\node[lbl, anchor=north] at (666,1349) {Doğrulma\\refleksinin geri\\gelişi\\(Tam derlenme)};
\end{scope}
\end{tikzpicture}
\end{document}
